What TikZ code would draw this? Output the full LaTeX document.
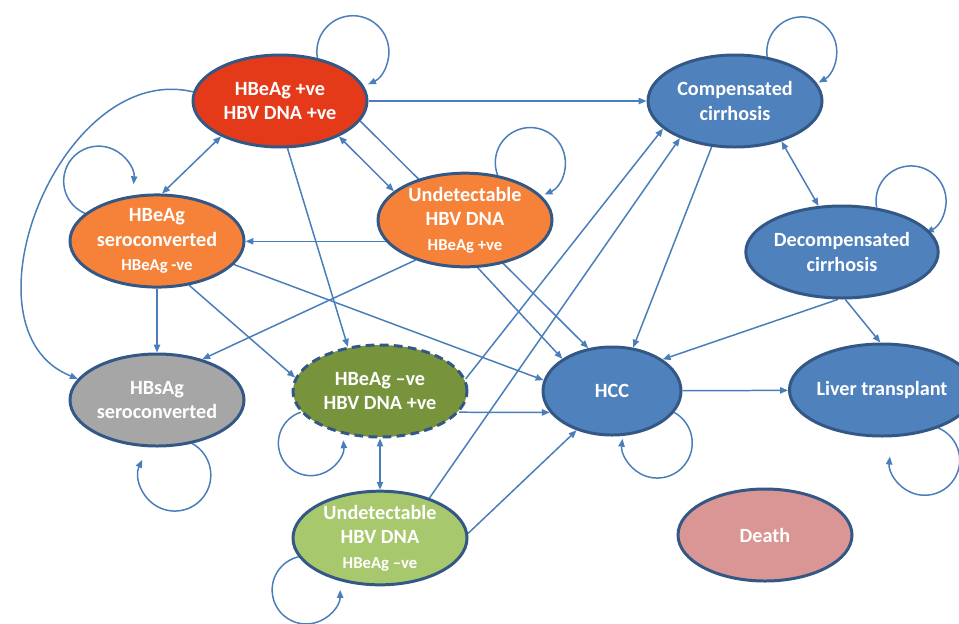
\documentclass[tikz,border=0pt]{standalone}
\usepackage{fontspec}
\setmainfont{Carlito}
\usetikzlibrary{shapes.geometric,arrows.meta,backgrounds}

\definecolor{edgeblue}{RGB}{74,126,187}
\definecolor{nodeline}{RGB}{52,88,134}
\definecolor{redfill}{RGB}{228,58,26}
\definecolor{orangefill}{RGB}{246,130,58}
\definecolor{greyfill}{RGB}{166,166,166}
\definecolor{greenfill}{RGB}{119,147,60}
\definecolor{lightgreen}{RGB}{168,200,110}
\definecolor{bluefill}{RGB}{79,129,189}
\definecolor{deathfill}{RGB}{217,150,148}

\tikzset{
  state/.style={ellipse, draw=nodeline, line width=1.7pt, minimum width=3.48cm, minimum height=1.84cm,
    inner sep=0pt, text=white, align=center, font=\bfseries\fontsize{11.5}{14}\selectfont},
  trans/.style={edgeblue, line width=0.85pt, -{Triangle[length=4.5pt,width=3.6pt]}},
  both/.style={trans, {Triangle[length=4.5pt,width=3.6pt]}-{Triangle[length=4.5pt,width=3.6pt]}},
}
\newcommand{\subline}[1]{{\fontsize{9.5}{12}\selectfont #1}}

\begin{document}
\begin{tikzpicture}[x=1cm,y=1cm]
    \useasboundingbox (0,0) rectangle (19.18,-12.46);

    \node[state, fill=redfill] (hbeagpos) at (5.60,-2.02) {HBeAg +ve\\HBV DNA +ve};
    \node[state, fill=orangefill] (seroconv) at (3.14,-4.82) {HBeAg\\seroconverted\\\subline{HBeAg -ve}};
    \node[state, fill=orangefill] (undetpos) at (9.30,-4.40) {Undetectable\\HBV DNA\\\subline{HBeAg +ve}};
    \node[state, fill=greyfill] (hbsag) at (3.14,-8.00) {HBsAg\\seroconverted};
    \node[state, fill=greenfill, dashed, dash pattern=on 5pt off 3pt] (hbeagneg) at (7.60,-7.82) {HBeAg –ve\\HBV DNA +ve};
    \node[state, fill=lightgreen] (undetneg) at (7.60,-10.76) {Undetectable\\HBV DNA\\\subline{HBeAg –ve}};
    \node[state, fill=bluefill] (compcirr) at (14.70,-2.02) {Compensated\\cirrhosis};
    \node[state, fill=bluefill] (decompcirr) at (16.84,-5.04) {Decompensated\\cirrhosis};
    \node[state, fill=bluefill, minimum width=2.76cm, minimum height=1.76cm] (hcc) at (12.24,-7.82) {HCC};
    \node[state, fill=bluefill] (transplant) at (17.64,-7.80) {Liver transplant};
    \node[state, fill=deathfill] (death) at (15.30,-10.70) {Death};

    \begin{pgfonlayer}{background}
    \draw[trans] (hbeagpos) -- (compcirr);
    \draw[both] (hbeagpos.211) -- (seroconv.84);
    \draw[both] (hbeagpos.-31) -- (undetpos.158);
    \draw[trans] (hbeagpos.-14) -- (hcc.119);
    \draw[trans] (hbeagpos.-81) -- (hbeagneg.126);
    \draw[trans] (hbeagpos.174) .. controls (1.2,-1.2) and (-0.9,-6.6) .. (hbsag.165);

    \draw[trans] (undetpos.195) -- (seroconv.east |- undetpos.195);
    \draw[trans] (undetpos.219) -- (hbsag.42);
    \draw[trans] (undetpos.-75) -- (hcc.147);

    \draw[trans] (seroconv) -- (hbsag);
    \draw[trans] (seroconv.-54) -- (hbeagneg.171);
    \draw[trans] (seroconv.-17) -- (hcc.171);

    \draw[trans] (hbeagneg.-15) -- (hcc.199);
    \draw[trans] (hbeagneg.8) -- (compcirr.201);
    \draw[both] (hbeagneg) -- (undetneg);
    \draw[trans] (undetneg.39) -- (compcirr.214);
    \draw[trans] (undetneg.3) -- (hcc.228);

    \draw[both] (compcirr.-41) -- (decompcirr.117);
    \draw[trans] (compcirr.-117) -- (hcc.64);
    \draw[trans] (decompcirr.-95) -- (hcc.32);
    \draw[trans] (decompcirr.-86) -- (transplant.92);
    \draw[trans] (hcc) -- (transplant);

    \draw[trans] (hbeagpos.49) arc[start angle=190, end angle=-65, radius=0.72];
    \draw[trans] (seroconv.159) arc[start angle=247, end angle=-5, radius=0.70];
    \draw[trans] (undetpos.54) arc[start angle=201, end angle=-66, radius=0.70];
    \draw[trans] (hbsag.-51) arc[start angle=61, end angle=-205, radius=0.72];
    \draw[trans] (hbeagneg.195) arc[start angle=108, end angle=365, radius=0.65];
    \draw[trans] (undetneg.193) arc[start angle=103, end angle=360, radius=0.68];
    \draw[trans] (compcirr.54) arc[start angle=188, end angle=-61, radius=0.70];
    \draw[trans] (decompcirr.52) arc[start angle=191, end angle=-65, radius=0.70];
    \draw[trans] (hcc.-19) arc[start angle=61, end angle=-187, radius=0.70];
    \draw[trans] (transplant.-34) arc[start angle=67, end angle=-186, radius=0.70];
    \end{pgfonlayer}
\end{tikzpicture}
\end{document}
